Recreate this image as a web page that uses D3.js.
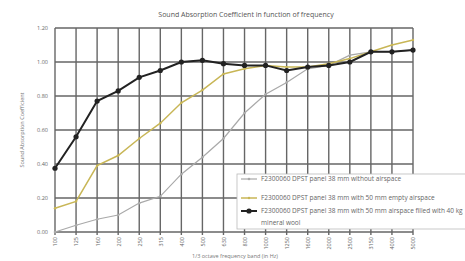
<!DOCTYPE html>
<html>
<head>
<meta charset="utf-8">
<script src="https://cdn.jsdelivr.net/npm/d3@7/dist/d3.min.js"></script>
<style>
  body { margin: 0; background: #fff; }
  svg { display: block; font-family: "Open Sans", "DejaVu Sans", sans-serif; }
</style>
</head>
<body>
<div id="chart"></div>
<script>
// data
const bands = ["100", "125", "160", "200", "250", "315", "400", "500", "630", "800",
  "1000", "1250", "1600", "2000", "2500", "3150", "4000", "5000"];
const noAirspace = [0.00, 0.04, 0.075, 0.10, 0.17, 0.21, 0.34, 0.44, 0.55, 0.70,
  0.81, 0.88, 0.96, 0.98, 1.04, 1.06, 1.06, 1.07];
const emptyAirspace = [0.14, 0.18, 0.39, 0.45, 0.55, 0.64, 0.76, 0.835, 0.93, 0.96,
  0.98, 0.97, 0.97, 0.99, 1.02, 1.06, 1.10, 1.13];
const filledAirspace = [0.375, 0.56, 0.77, 0.83, 0.91, 0.95, 1.00, 1.01, 0.99, 0.98,
  0.98, 0.95, 0.97, 0.98, 1.00, 1.06, 1.06, 1.07];
const yTicks = [0, 0.2, 0.4, 0.6, 0.8, 1.0, 1.2];
const seriesNames = [
  "F2300060 DPST panel 38 mm without airspace",
  "F2300060 DPST panel 38 mm with 50 mm empty airspace",
  "F2300060 DPST panel 38 mm with 50 mm airspace filled with 40 kg"
];

const width = 465, height = 261;
const plotL = 55, plotR = 413, plotT = 28, plotB = 232;

const svg = d3.select("#chart").append("svg")
  .attr("width", width)
  .attr("height", height);

const x = d3.scalePoint().domain(bands).range([plotL, plotR]).padding(0);
const y = d3.scaleLinear().domain([0, 1.2]).range([plotB, plotT]);

// title
svg.append("text")
  .attr("x", 246).attr("y", 17)
  .attr("text-anchor", "middle")
  .attr("font-size", 7)
  .attr("fill", "#555")
  .text("Sound Absorption Coefficient in function of frequency");

// grid
svg.append("g")
  .selectAll("line")
  .data(yTicks)
  .join("line")
  .attr("x1", plotL).attr("x2", plotR)
  .attr("y1", d => y(d)).attr("y2", d => y(d))
  .attr("stroke", "#666").attr("stroke-width", 1.4);

svg.append("g")
  .selectAll("line")
  .data(bands)
  .join("line")
  .attr("x1", d => x(d)).attr("x2", d => x(d))
  .attr("y1", plotT).attr("y2", plotB + 3)
  .attr("stroke", "#666").attr("stroke-width", 1.4);

// y axis labels
const yAxis = svg.append("g")
  .attr("transform", `translate(${plotL},0)`)
  .call(d3.axisLeft(y).tickValues(yTicks).tickFormat(d3.format(".2f")).tickSize(0).tickPadding(7));
yAxis.select(".domain").remove();
yAxis.selectAll("text").attr("font-size", 5.5).attr("fill", "#666")
  .style("font-family", "'Open Sans', sans-serif");

// x axis labels, rotated
const xAxis = svg.append("g")
  .attr("transform", `translate(0,${plotB})`)
  .call(d3.axisBottom(x).tickSize(0).tickPadding(0));
xAxis.select(".domain").remove();
xAxis.selectAll("text")
  .attr("font-size", 5.5).attr("fill", "#666")
  .style("font-family", "'Open Sans', sans-serif")
  .attr("transform", "rotate(-90)")
  .attr("text-anchor", "end")
  .attr("x", -5).attr("y", 0).attr("dy", "0.35em");

// axis titles
svg.append("text")
  .attr("x", 235).attr("y", 258)
  .attr("text-anchor", "middle")
  .attr("font-size", 5.5).attr("fill", "#777")
  .text("1/3 octave frequency band (in Hz)");

svg.append("text")
  .attr("transform", `translate(24,${(plotT + plotB) / 2}) rotate(-90)`)
  .attr("text-anchor", "middle")
  .attr("font-size", 5.5).attr("fill", "#777")
  .text("Sound Absorption Coefficient");

// series
const series = [
  { values: noAirspace, color: "#a9a9a9", width: 1.2, r: 1.3 },
  { values: emptyAirspace, color: "#c8b656", width: 1.5, r: 1.2 },
  { values: filledAirspace, color: "#222", width: 2, r: 2.6 }
];

const line = d3.line().x((d, i) => x(bands[i])).y(d => y(d));

series.forEach(s => {
  svg.append("path")
    .datum(s.values)
    .attr("d", line)
    .attr("fill", "none")
    .attr("stroke", s.color)
    .attr("stroke-width", s.width);
  svg.append("g")
    .selectAll("circle")
    .data(s.values)
    .join("circle")
    .attr("cx", (d, i) => x(bands[i]))
    .attr("cy", d => y(d))
    .attr("r", s.r)
    .attr("fill", s.color);
});

// legend
const lg = svg.append("g").attr("transform", "translate(237,174)");
lg.append("rect")
  .attr("x", 0).attr("y", 0).attr("width", 240).attr("height", 55)
  .attr("fill", "#fff").attr("stroke", "#bbb").attr("stroke-width", 0.8);

const legendY = [5, 24, 37];
series.forEach((s, i) => {
  const g = lg.append("g").attr("transform", `translate(0,${legendY[i]})`);
  g.append("line").attr("x1", 4).attr("x2", 20)
    .attr("stroke", s.color).attr("stroke-width", s.width);
  g.append("circle").attr("cx", 12).attr("r", s.r).attr("fill", s.color);
  g.append("text").attr("x", 24).attr("dy", "0.35em")
    .attr("font-size", 6.5).attr("fill", "#666")
    .text(seriesNames[i]);
});
lg.append("text").attr("x", 24).attr("y", legendY[2] + 12).attr("dy", "0.35em")
  .attr("font-size", 6.5).attr("fill", "#666")
  .text("mineral wool");
</script>
</body>
</html>
